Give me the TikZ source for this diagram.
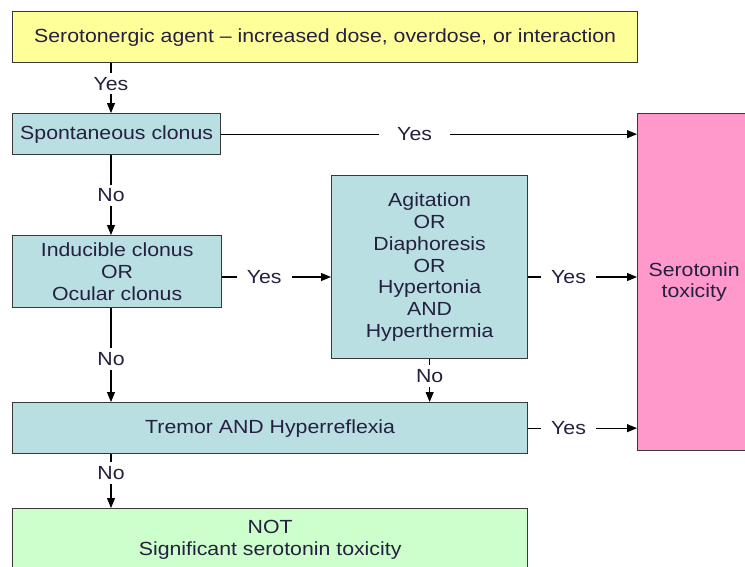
\documentclass[tikz,border=0pt]{standalone}
\usepackage{fontspec}
\setmainfont{Liberation Sans}[FakeStretch=1.12]
\usetikzlibrary{arrows.meta}
\definecolor{ybox}{HTML}{FFFF99}
\definecolor{bbox}{HTML}{B9DFE3}
\definecolor{pbox}{HTML}{FF99CC}
\definecolor{gbox}{HTML}{CCFFCC}
\definecolor{bordc}{HTML}{383838}
\definecolor{txtc}{HTML}{262040}
\tikzset{
  box/.style={draw=bordc, line width=1.3pt, inner sep=0pt, align=center, anchor=north west, text=txtc},
  conn/.style={line width=1.1pt, draw=black, -{Triangle[length=10pt,width=8pt]}},
  lab/.style={fill=white, inner xsep=10pt, inner ysep=4pt, text=txtc}
}
\begin{document}
\begin{tikzpicture}[x=1pt,y=-1pt, font=\fontsize{19}{21.7}\selectfont]
\clip (0,0) rectangle (745,566);
\fill[white] (0,0) rectangle (745,566);
\coordinate (colL) at (111,0);
\coordinate (rowB) at (0,277);
\node[box, fill=ybox, minimum width=625pt, minimum height=51pt] (top) at (12,11) {Serotonergic agent -- increased dose, overdose, or interaction};
\node[box, fill=bbox, minimum width=208pt, minimum height=41pt] (spont) at (12,113) {Spontaneous clonus};
\node[box, fill=bbox, minimum width=209pt, minimum height=72pt] (induc) at (12,235) {Inducible clonus\\OR\\Ocular clonus};
\node[box, fill=bbox, minimum width=196pt, minimum height=183pt] (agit) at (331,175) {Agitation\\OR\\Diaphoresis\\OR\\Hypertonia\\AND\\Hyperthermia};
\node[box, fill=pbox, minimum width=113pt, minimum height=337pt] (pink) at (637,113) {Serotonin\\toxicity};
\node[box, fill=bbox, minimum width=515pt, minimum height=51pt] (tremor) at (12,402) {Tremor AND Hyperreflexia};
\node[box, fill=gbox, minimum width=515pt, minimum height=62pt] (notb) at (12,508) {NOT\\Significant serotonin toxicity};
\draw[conn] (top.south -| colL) -- node[lab,pos=0.41]{Yes} (spont.north -| colL);
\draw[conn] (spont.south -| colL) -- node[lab,pos=0.5]{No} (induc.north -| colL);
\draw[conn] (induc.south -| colL) -- node[lab,pos=0.54]{No} (tremor.north -| colL);
\draw[conn] (tremor.south -| colL) -- node[lab,pos=0.35]{No} (notb.north -| colL);
\draw[conn] (agit.south) -- node[lab,pos=0.39]{No} (tremor.north -| agit.south);
\draw[conn] (spont.east) -- node[lab,pos=0.465,inner xsep=18pt]{Yes} (spont.east -| pink.west);
\draw[conn] (induc.east |- rowB) -- node[lab,pos=0.385]{Yes} (agit.west |- rowB);
\draw[conn] (agit.east |- rowB) -- node[lab,pos=0.37]{Yes} (pink.west |- rowB);
\draw[conn] (tremor.east) -- node[lab,pos=0.37]{Yes} (tremor.east -| pink.west);
\end{tikzpicture}
\end{document}
